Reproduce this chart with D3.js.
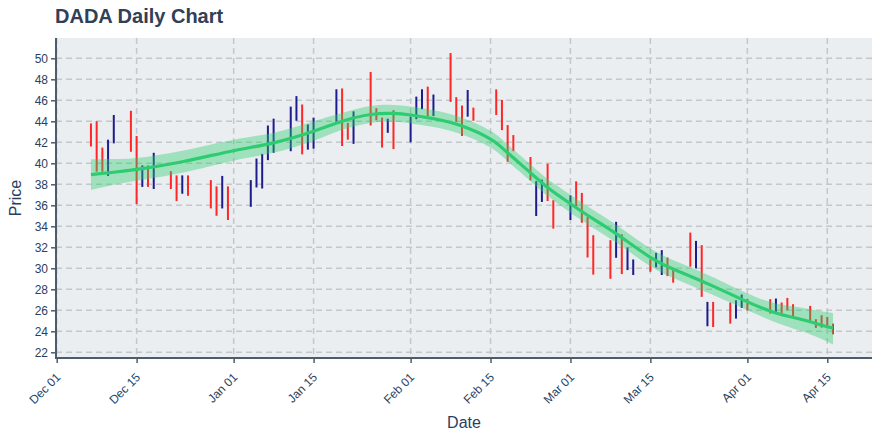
<!DOCTYPE html>
<html><head><meta charset="utf-8">
<script src="https://cdn.jsdelivr.net/npm/d3@7"></script>
<style>body{margin:0;background:#fff;}svg{display:block;font-family:"Liberation Sans",Arial,Helvetica,sans-serif;}</style>
</head><body>
<svg id="c" width="880" height="440"></svg>
<script>
// ---- data ----
const barDates = ["2020-12-07","2020-12-08","2020-12-09","2020-12-10","2020-12-11","2020-12-14","2020-12-15","2020-12-16","2020-12-17","2020-12-18","2020-12-21","2020-12-22","2020-12-23","2020-12-24","2020-12-28","2020-12-29","2020-12-30","2020-12-31","2021-01-04","2021-01-05","2021-01-06","2021-01-07","2021-01-08","2021-01-11","2021-01-12","2021-01-13","2021-01-14","2021-01-15","2021-01-19","2021-01-20","2021-01-21","2021-01-22","2021-01-25","2021-01-26","2021-01-27","2021-01-28","2021-01-29","2021-02-01","2021-02-02","2021-02-03","2021-02-04","2021-02-05","2021-02-08","2021-02-09","2021-02-10","2021-02-11","2021-02-12","2021-02-16","2021-02-17","2021-02-18","2021-02-19","2021-02-22","2021-02-23","2021-02-24","2021-02-25","2021-02-26","2021-03-01","2021-03-02","2021-03-03","2021-03-04","2021-03-05","2021-03-08","2021-03-09","2021-03-10","2021-03-11","2021-03-12","2021-03-15","2021-03-16","2021-03-17","2021-03-18","2021-03-19","2021-03-22","2021-03-23","2021-03-24","2021-03-25","2021-03-26","2021-03-29","2021-03-30","2021-03-31","2021-04-01","2021-04-05","2021-04-06","2021-04-07","2021-04-08","2021-04-09","2021-04-12","2021-04-13","2021-04-14","2021-04-15","2021-04-16"];
const barHigh = [43.8,44.0,41.5,42.25,44.6,45.0,42.6,39.8,39.8,41.0,39.25,38.85,38.85,38.85,38.4,37.8,38.8,37.8,38.4,40.45,40.9,43.6,44.25,45.4,46.4,45.6,43.7,44.35,47.05,47.13,43.85,44.95,48.7,45.25,44.35,44.25,45.05,44.45,46.35,47.05,47.3,46.55,50.5,46.3,45.5,46.98,45.3,47.04,46.03,43.64,42.69,40.6,38.3,38.44,39.96,36.48,36.95,38.28,37.18,34.88,33.15,32.68,34.43,33.24,31.98,30.84,30.84,31.47,31.73,31.03,29.83,33.4,32.61,32.2,26.8,26.8,26.74,26.96,27.5,27.06,27.06,27.12,26.74,27.18,26.58,26.42,25.15,25.53,25.37,24.73];
const barLow = [41.6,39.2,39.2,38.8,41.9,41.1,36.1,37.75,37.75,37.55,37.55,36.4,37.1,36.9,35.7,35.0,35.7,34.6,35.85,37.7,37.6,40.3,41.0,41.15,44.05,40.85,41.3,41.4,43.95,41.65,42.25,41.85,43.6,44.1,41.5,42.9,41.35,42.0,44.2,45.15,44.5,44.5,45.85,43.95,42.6,44.44,44.05,44.6,43.16,40.14,41.16,38.38,34.98,36.32,36.41,33.78,34.6,35.9,34.34,31.03,29.4,29.0,31.0,29.45,29.83,29.36,29.67,30.09,29.36,29.26,28.63,30.15,29.99,27.28,24.48,24.41,24.73,25.21,26.23,26.0,25.69,25.85,25.75,26.0,25.37,24.89,24.32,24.35,24.35,23.71];
// direction: 1 = up day, 0 = down day
const barUp = [0,0,0,1,1,0,0,1,0,1,0,0,1,0,0,0,1,0,1,1,1,1,1,1,1,0,1,1,1,0,0,1,0,0,0,1,0,1,1,1,0,1,0,0,0,1,0,0,0,0,0,0,1,1,0,0,1,0,0,0,0,0,1,0,1,1,0,1,1,0,0,0,1,0,1,0,0,1,1,0,0,1,0,0,0,0,0,0,0,0];

const trendDates = ["2020-12-07","2020-12-11","2020-12-15","2020-12-23","2021-01-01","2021-01-08","2021-01-15","2021-01-20","2021-01-25","2021-01-29","2021-02-01","2021-02-05","2021-02-10","2021-02-15","2021-02-18","2021-02-22","2021-02-25","2021-03-01","2021-03-05","2021-03-09","2021-03-15","2021-03-20","2021-03-26","2021-04-01","2021-04-06","2021-04-10","2021-04-13","2021-04-16"];
const trendMid = [38.92,39.15,39.42,40.15,41.2,41.95,43.05,44.0,44.65,44.75,44.6,44.25,43.55,42.3,41.0,39.1,37.7,36.15,34.7,33.3,31.05,29.7,28.3,26.8,25.75,25.2,24.75,24.3];
const trendLo = [37.45,37.95,38.35,39.1,40.25,41.0,42.15,43.2,43.85,43.95,43.8,43.45,42.75,41.5,40.2,38.3,36.9,35.3,33.85,32.45,30.2,28.85,27.45,26.0,24.85,24.1,23.5,22.75];
const trendHi = [40.38,40.42,40.5,41.2,42.25,42.9,44.0,44.8,45.45,45.55,45.4,45.05,44.35,43.1,41.8,39.9,38.5,37.0,35.55,34.15,31.9,30.55,29.15,27.6,26.65,26.3,26.0,25.75];

const xTickDates = ["2020-12-01","2020-12-15","2021-01-01","2021-01-15","2021-02-01","2021-02-15","2021-03-01","2021-03-15","2021-04-01","2021-04-15"];
const yTicks = [22,24,26,28,30,32,34,36,38,40,42,44,46,48,50];

// ---- layout ----
const L = 56, R = 872, T = 38, B = 358;
const pd = s => new Date(s + "T00:00:00Z");
const svg = d3.select("#c");

let x = d3.scaleUtc().domain([pd("2020-12-01"), pd("2021-04-15")]).range([56.7, 827.3]);
x = d3.scaleUtc().domain([x.invert(L), x.invert(R)]).range([L, R]);
let y = d3.scaleLinear().domain([22, 50]).range([352.3, 58.3]);
y = d3.scaleLinear().domain([y.invert(B), y.invert(T)]).range([B, T]);

svg.append("rect").attr("x", L).attr("y", T).attr("width", R - L).attr("height", B - T).attr("fill", "#ebeef0");

// grid
const grid = svg.append("g").attr("stroke", "#c4c7cb").attr("stroke-width", 1.5).attr("stroke-dasharray", "6,4");
grid.selectAll("line.h").data(yTicks).join("line").attr("class", "h")
  .attr("x1", L).attr("x2", R).attr("y1", d => y(d)).attr("y2", d => y(d));
grid.selectAll("line.v").data(xTickDates.map(pd)).join("line").attr("class", "v")
  .attr("y1", T).attr("y2", B).attr("x1", d => x(d)).attr("x2", d => x(d));

// bars
const bars = barDates.map((d, i) => ({ d: pd(d), h: barHigh[i], l: barLow[i], up: barUp[i] }));
svg.append("g").selectAll("line").data(bars).join("line")
  .attr("x1", d => x(d.d)).attr("x2", d => x(d.d))
  .attr("y1", d => y(d.h)).attr("y2", d => y(d.l))
  .attr("stroke", d => d.up ? "#1c1c8e" : "#ff2626").attr("stroke-width", 2);

// band + trend
const tr = trendDates.map((d, i) => ({ d: pd(d), m: trendMid[i], lo: trendLo[i], hi: trendHi[i] }));
svg.append("path").datum(tr)
  .attr("d", d3.area().x(d => x(d.d)).y0(d => y(d.lo)).y1(d => y(d.hi)).curve(d3.curveNatural))
  .attr("fill", "rgba(46,204,113,0.4)");
svg.append("path").datum(tr)
  .attr("d", d3.line().x(d => x(d.d)).y(d => y(d.m)).curve(d3.curveNatural))
  .attr("fill", "none").attr("stroke", "#2ecc71").attr("stroke-width", 3.2);

// axes
const axCol = "#4d5c6c", txtCol = "#2a3f5f";
const ya = svg.append("g").attr("transform", `translate(${L},0)`)
  .call(d3.axisLeft(y).tickValues(yTicks).tickSize(5).tickPadding(3));
ya.select(".domain").remove();
ya.selectAll("line").attr("stroke", axCol).attr("stroke-width", 1.5);
ya.selectAll("text").attr("fill", txtCol).attr("font-size", 12);

const xa = svg.append("g").attr("transform", `translate(0,${B})`)
  .call(d3.axisBottom(x).tickValues(xTickDates.map(pd)).tickFormat(d3.utcFormat("%b %d")).tickSize(5).tickPadding(4));
xa.select(".domain").remove();
xa.selectAll("line").attr("stroke", axCol).attr("stroke-width", 1.5);
xa.selectAll("text").attr("fill", txtCol).attr("font-size", 12)
  .attr("text-anchor", "end").attr("x", 0).attr("y", 0).attr("dy", "0.35em")
  .attr("transform", "translate(1,17) rotate(-45)");

svg.append("line").attr("x1", L).attr("x2", L).attr("y1", T).attr("y2", B + 1).attr("stroke", axCol).attr("stroke-width", 2);
svg.append("line").attr("x1", L - 1).attr("x2", R).attr("y1", B).attr("y2", B).attr("stroke", axCol).attr("stroke-width", 2);

// titles
svg.append("text").attr("x", 55).attr("y", 23).attr("font-size", 20).attr("font-weight", "bold")
  .attr("fill", "#2f4058").text("DADA Daily Chart");
svg.append("text").attr("transform", "translate(21,198) rotate(-90)").attr("text-anchor", "middle")
  .attr("font-size", 16).attr("fill", txtCol).text("Price");
svg.append("text").attr("x", 464).attr("y", 428).attr("text-anchor", "middle")
  .attr("font-size", 16).attr("fill", txtCol).text("Date");
</script>
</body></html>
